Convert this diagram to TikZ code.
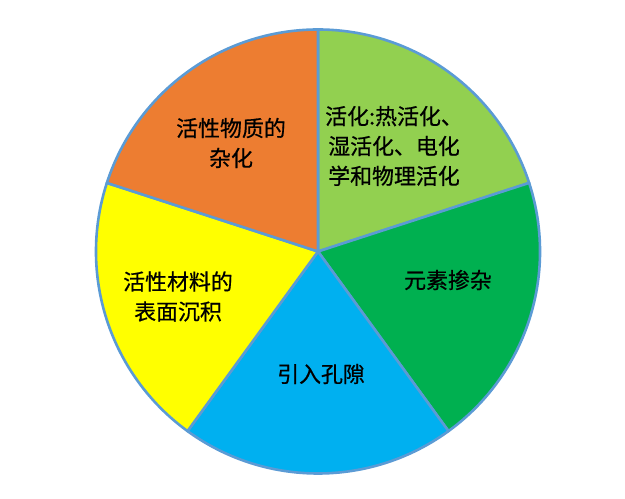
\documentclass[tikz,border=0pt]{standalone}
\usepackage{fontspec}
\setmainfont{Noto Sans CJK SC}[RawFeature={embolden=0.6}]
\definecolor{lgreen}{HTML}{92D050}
\definecolor{dgreen}{HTML}{00B050}
\definecolor{sky}{HTML}{00B0F0}
\definecolor{yel}{HTML}{FFFF00}
\definecolor{org}{HTML}{ED7D31}
\definecolor{edge}{HTML}{5B9BD5}
\tikzset{
  lbl/.style={align=center, inner sep=0pt, font=\fontsize{22}{30}\selectfont},
  slice/.style={draw=edge, line width=2.6bp, line join=round}
}
\begin{document}
\begin{tikzpicture}[x=1bp,y=1bp]
\useasboundingbox (0,0) rectangle (625,499);
\coordinate (c) at (318,247.5);
\foreach \a/\b/\col in {90/18/lgreen, 18/-54/dgreen, -54/-126/sky, -126/-198/yel, 162/90/org}{
  \path[slice, fill=\col] (c) -- ++(\a:222) arc[start angle=\a, end angle=\b, radius=222] -- cycle;
}
\node[lbl] (t1) at (394,353) {活化:热活化、\\湿活化、电化\\学和物理活化};
\node[lbl] (t2) at (448,219) {元素掺杂};
\node[lbl] (t3) at (321,125) {引入孔隙};
\node[lbl] (t4) at (178,202.5) {活性材料的\\表面沉积};
\node[lbl] (t5) at (231,356) {活性物质的\\杂化};
\end{tikzpicture}
\end{document}
